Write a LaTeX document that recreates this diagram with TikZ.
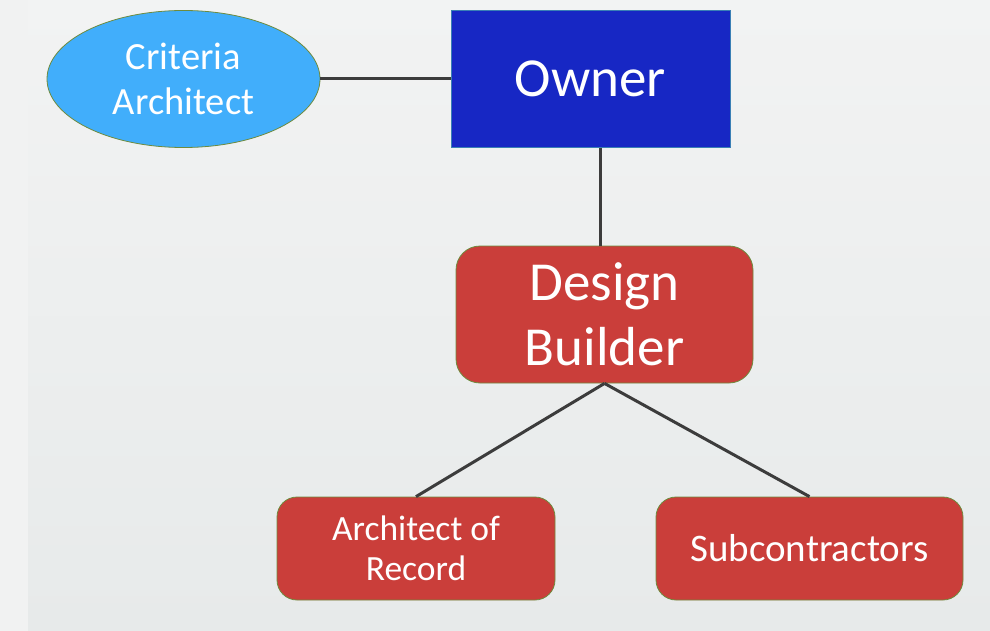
\documentclass[tikz,border=0pt]{standalone}
\usepackage{fontspec}
\setmainfont{Carlito}
\usetikzlibrary{shapes.geometric}
\definecolor{bgtop}{HTML}{F2F3F3}
\definecolor{bgbot}{HTML}{E7EAEA}
\definecolor{bgstrip}{HTML}{F1F2F2}
\definecolor{skyfill}{HTML}{41AEFB}
\definecolor{ownerfill}{HTML}{1727C4}
\definecolor{ownerline}{HTML}{3A7FB5}
\definecolor{redfill}{HTML}{CA3E3A}
\definecolor{oliveline}{HTML}{6E8B3D}
\definecolor{linkgray}{HTML}{3C3C3C}
\tikzset{
  box/.style={draw=oliveline, line width=0.8pt, fill=redfill, text=white,
    inner sep=0pt, align=center},
  link/.style={draw=linkgray, line width=3pt},
}
\begin{document}
\begin{tikzpicture}[x=1pt, y=-1pt]
  % page and soft background
  \useasboundingbox (0,0) rectangle (990,631);
  \shade[top color=bgtop, bottom color=bgbot] (0,0) rectangle (990,631);
  \fill[bgstrip] (0,0) rectangle (28,631);

  % nodes
  \node[ellipse, draw=oliveline, line width=0.8pt, fill=skyfill, text=white,
        minimum width=273pt, minimum height=137pt, inner sep=0pt, align=center,
        font=\fontsize{38.5}{45}\selectfont] (crit) at (183.5,79) {Criteria\\Architect};
  \node[draw=ownerline, line width=0.8pt, fill=ownerfill, text=white,
        minimum width=279pt, minimum height=137pt, inner sep=0pt,
        font=\fontsize{55}{66}\selectfont] (owner) at (590.5,79) {Owner};
  \node[box, rounded corners=24pt, minimum width=297pt, minimum height=137pt,
        font=\fontsize{55}{65}\selectfont] (db) at (604.5,314.5) {Design\\Builder};
  \node[box, rounded corners=20pt, minimum width=278pt, minimum height=103pt,
        font=\fontsize{35.5}{40}\selectfont] (aor) at (416,548.5) {Architect of\\Record};
  \node[box, rounded corners=20pt, minimum width=307pt, minimum height=103pt,
        font=\fontsize{39}{44}\selectfont] (sub) at (809.5,548.5) {Subcontractors};

  % connectors
  \draw[link] (crit.east) -- (owner.west);
  \draw[link] ([xshift=9.5pt]owner.south) -- ([xshift=9.5pt]owner.south |- db.north);
  \draw[link] (db.south) -- (aor.north);
  \draw[link] (db.south) -- (sub.north);
\end{tikzpicture}
\end{document}
